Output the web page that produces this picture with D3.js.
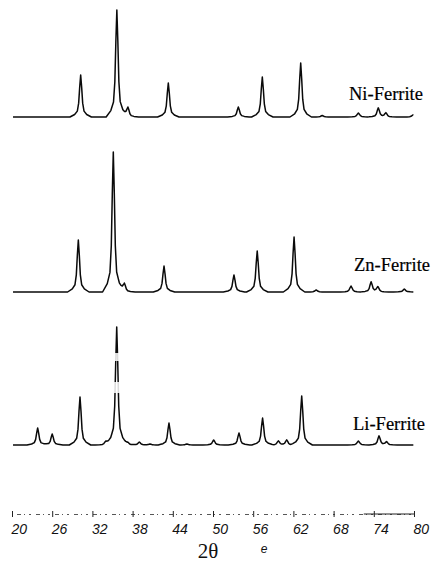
<!DOCTYPE html>
<html>
<head>
<meta charset="utf-8">
<script src="https://cdn.jsdelivr.net/npm/d3@7"></script>
<style>
  body { margin: 0; background: #fff; }
  svg { display: block; }
</style>
</head>
<body>
<div id="chart"></div>
<script>
// peak positions (2theta) and heights
let niPos = [30.25, 35.65, 37.3, 43.33, 53.78, 57.36, 63.09, 66.3, 71.7, 74.67, 75.8, 79.85];
let niInt = [42, 107, 10, 34, 10, 40, 54, 1.5, 4, 9, 4, 2];

let znPos = [29.9, 35.12, 36.77, 42.69, 53.13, 56.6, 62.1, 65.4, 70.6, 73.6, 74.6, 78.55];
let znInt = [52, 140, 9, 26, 17, 41, 55, 2, 6, 10, 5, 3];

let liPos = [23.83, 26.0, 30.15, 34.0, 35.63, 37.27, 39.0, 40.6, 43.43, 46.1, 50.1, 53.88, 57.4, 59.75, 61.0, 63.24, 71.7, 74.78, 75.9];
let liInt = [17, 11, 48, 4, 118, 3, 3, 1, 22, 1, 5, 12, 27, 4, 5, 49, 4, 9, 3];

let names = ['Ni-Ferrite', 'Zn-Ferrite', 'Li-Ferrite'];
let tickVals = [20, 26, 32, 38, 44, 50, 56, 62, 68, 74, 80];

// line profile of one reflection: offset in degrees, fraction of peak height
let profile = [[-1.6, 0], [-0.9, 0.06], [-0.5, 0.14], [-0.3, 0.33], [-0.15, 0.7], [0, 1],
               [0.15, 0.7], [0.3, 0.33], [0.5, 0.14], [0.9, 0.06], [1.6, 0]];

// the strongest Li reflection fades out in the print: intensity bands where the trace drops out
let liGaps = [[84, 92], [52, 63]];

const width = 432, height = 565;
const baselines = [117, 292, 445];
const scanRange = [20.15, 79.9];

const svg = d3.select('#chart').append('svg')
    .attr('width', width)
    .attr('height', height);

const x = d3.scaleLinear().domain([20, 80]).range([12, 414]);

function profileAt(dx) {
    if (dx <= profile[0][0] || dx >= profile[profile.length - 1][0]) return 0;
    for (let i = 1; i < profile.length; i++) {
        if (dx <= profile[i][0]) {
            const [x0, f0] = profile[i - 1], [x1, f1] = profile[i];
            return f0 + (f1 - f0) * (dx - x0) / (x1 - x0);
        }
    }
    return 0;
}

function buildScan(pos, inten) {
    let xs = [scanRange[0], scanRange[1]];
    pos.forEach(p => profile.forEach(q => xs.push(p + q[0])));
    xs = xs.filter(v => v >= scanRange[0] && v <= scanRange[1]).sort((a, b) => a - b);
    return xs.map(t => {
        let yv = 0;
        pos.forEach((p, i) => { yv += inten[i] * profileAt(t - p); });
        return [t, yv];
    });
}

const scans = [buildScan(niPos, niInt), buildScan(znPos, znInt), buildScan(liPos, liInt)];
const yScales = baselines.map(b => d3.scaleLinear().domain([0, 100]).range([b, b - 100]));

scans.forEach((scan, k) => {
    const y = yScales[k];
    const line = d3.line()
        .x(d => x(d[0]))
        .y(d => y(d[1]));

    svg.append('path')
        .datum(scan)
        .attr('fill', 'none')
        .attr('stroke', '#0a0a0a')
        .attr('stroke-width', 1.5)
        .attr('stroke-linejoin', 'round')
        .attr('d', line);
});

// drop-outs on the Li main peak
const liMain = liPos[liInt.indexOf(d3.max(liInt))];
svg.selectAll('rect.gap')
    .data(liGaps)
    .enter()
    .append('rect')
    .attr('class', 'gap')
    .attr('x', x(liMain) - 4)
    .attr('width', 8)
    .attr('y', d => yScales[2](d[1]))
    .attr('height', d => yScales[2](d[0]) - yScales[2](d[1]))
    .attr('fill', '#fff')
    .attr('opacity', 0.85);

// sample labels
const labelPos = [[349, 100], [354, 271], [353, 430]];
names.forEach((n, k) => {
    svg.append('text')
        .attr('x', labelPos[k][0])
        .attr('y', labelPos[k][1])
        .attr('font-family', 'Liberation Serif, Times New Roman, serif')
        .attr('font-size', 18.5)
        .attr('fill', '#000')
        .attr('stroke', '#000')
        .attr('stroke-width', 0.2)
        .text(n);
});

// broken-looking 2theta axis
const axisY = 514;
const axis = d3.axisBottom(x)
    .tickValues(tickVals)
    .tickSize(3)
    .tickPadding(7);

const gAxis = svg.append('g')
    .attr('transform', `translate(0,${axisY})`)
    .call(axis);

gAxis.select('.domain')
    .attr('stroke', '#444')
    .attr('stroke-width', 0.9)
    .attr('stroke-dasharray', '2,5,4,3,1,4');

gAxis.selectAll('.tick line')
    .attr('y1', -3)
    .attr('y2', 3)
    .attr('stroke', '#222');

gAxis.selectAll('.tick text')
    .attr('text-anchor', 'start')
    .attr('dx', -1)
    .attr('font-family', 'Liberation Sans, Arial, sans-serif')
    .attr('font-style', 'italic')
    .attr('font-size', 14)
    .attr('fill', '#111');

// solid stretch near the right end of the axis
svg.append('line')
    .attr('x1', x(72.5))
    .attr('x2', x(80))
    .attr('y1', axisY)
    .attr('y2', axisY)
    .attr('stroke', '#222')
    .attr('stroke-width', 1);

svg.append('text')
    .attr('x', 208)
    .attr('y', 558)
    .attr('text-anchor', 'middle')
    .attr('font-family', 'Liberation Serif, Times New Roman, serif')
    .attr('font-size', 21)
    .attr('fill', '#111')
    .text('2θ');

svg.append('text')
    .attr('x', 264)
    .attr('y', 553)
    .attr('text-anchor', 'middle')
    .attr('font-family', 'Liberation Sans, Arial, sans-serif')
    .attr('font-style', 'italic')
    .attr('font-size', 12)
    .attr('fill', '#111')
    .text('e');
</script>
</body>
</html>
